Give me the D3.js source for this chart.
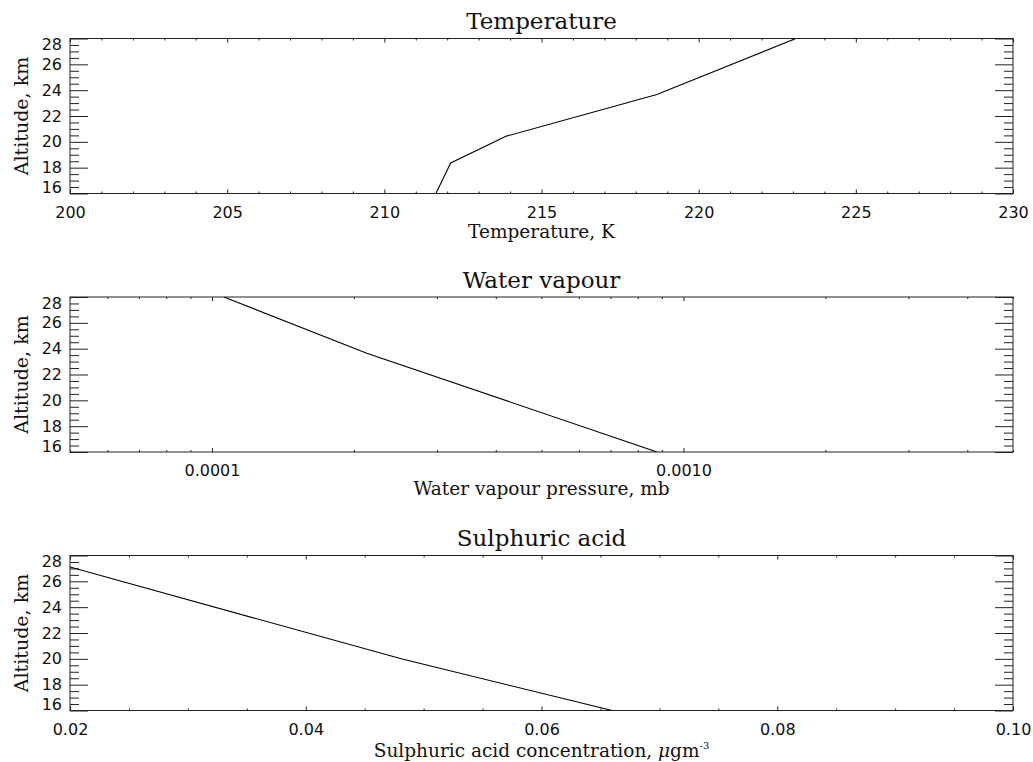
<!DOCTYPE html>
<html>
<head>
<meta charset="utf-8">
<script src="https://cdn.jsdelivr.net/npm/d3@7"></script>
<style>
  html, body { margin: 0; padding: 0; background: #fff; }
  svg { display: block; }
  .ttl { font-family: "DejaVu Serif", serif; fill: #111; }
</style>
</head>
<body>
<svg id="chart" width="1033" height="762"></svg>
<script>
// Altitude profiles
const tempAltitude   = [16, 18.36, 20.43, 23.66, 28];
const temperatureK   = [211.64, 212.11, 213.87, 218.67, 223.09];

const vapourAltitude = [16, 23.65, 28];
const vapourPressure = [0.000879, 0.000213, 0.000106];

const acidAltitude   = [16, 20, 27.11];
const acidConc       = [0.0660, 0.0481, 0.0200];

// Axis ticks and labels
const altitudeMajor  = [16, 18, 20, 22, 24, 26, 28];
const altitudeLabels = ["16", "18", "20", "22", "24", "26", "28"];
const tempMajor      = [200, 205, 210, 215, 220, 225, 230];
const tempLabels     = ["200", "205", "210", "215", "220", "225", "230"];
const vapourMajor    = [0.0001, 0.001];
const vapourLabels   = ["0.0001", "0.0010"];
const acidMajor      = [0.02, 0.04, 0.06, 0.08, 0.10];
const acidLabels     = ["0.02", "0.04", "0.06", "0.08", "0.10"];

const svg = d3.select("#chart");
const left = 70, right = 1013, plotH = 155;

const altMinor = d3.range(16, 28.001, 0.5).filter(v => Math.abs(v % 2) > 1e-6);

function styleAxis(sel) {
  sel.select(".domain").remove();
  sel.selectAll("line").attr("stroke", "#222");
  sel.selectAll("text")
    .attr("font-family", "DejaVu Sans, sans-serif")
    .attr("font-size", 16)
    .attr("fill", "#111");
}

function panel(cfg) {
  const top = cfg.top, bottom = top + plotH;
  const g = svg.append("g");
  const x = cfg.scale.range([left, right]);
  const y = d3.scaleLinear().domain([16, 28]).range([bottom, top]);

  const clipId = "clip" + cfg.id;
  svg.append("clipPath").attr("id", clipId)
    .append("rect").attr("x", left).attr("y", top).attr("width", right - left).attr("height", plotH);

  // frame
  g.append("rect").attr("x", left).attr("y", top).attr("width", right - left).attr("height", plotH)
    .attr("fill", "none").attr("stroke", "#222").attr("stroke-width", 1);

  // bottom x axis with labels
  const fmt = d => cfg.labels[cfg.major.indexOf(d)];
  g.append("g").attr("transform", `translate(0,${bottom})`)
    .call(d3.axisBottom(x).tickValues(cfg.major).tickFormat(fmt).tickSizeInner(-4).tickSizeOuter(0).tickPadding(13))
    .call(styleAxis);
  g.append("g").attr("transform", `translate(0,${bottom})`)
    .call(d3.axisBottom(x).tickValues(cfg.minor).tickFormat("").tickSizeInner(-2).tickSizeOuter(0))
    .call(styleAxis);
  // top x axis
  g.append("g").attr("transform", `translate(0,${top})`)
    .call(d3.axisTop(x).tickValues(cfg.major).tickFormat("").tickSizeInner(-4).tickSizeOuter(0))
    .call(styleAxis);
  g.append("g").attr("transform", `translate(0,${top})`)
    .call(d3.axisTop(x).tickValues(cfg.minor).tickFormat("").tickSizeInner(-2).tickSizeOuter(0))
    .call(styleAxis);

  // left y axis with labels, end labels kept inside the frame
  const yl = g.append("g").attr("transform", `translate(${left},0)`)
    .call(d3.axisLeft(y).tickValues(altitudeMajor)
      .tickFormat(d => altitudeLabels[altitudeMajor.indexOf(d)])
      .tickSizeInner(-18).tickSizeOuter(0).tickPadding(8))
    .call(styleAxis);
  yl.selectAll(".tick text").attr("y", d => {
    const c = Math.min(Math.max(y(d), top + 6.2), bottom - 6);
    return c - y(d);
  });
  g.append("g").attr("transform", `translate(${left},0)`)
    .call(d3.axisLeft(y).tickValues(altMinor).tickFormat("").tickSizeInner(-9).tickSizeOuter(0))
    .call(styleAxis);
  // right y axis
  g.append("g").attr("transform", `translate(${right},0)`)
    .call(d3.axisRight(y).tickValues(altitudeMajor).tickFormat("").tickSizeInner(-18).tickSizeOuter(0))
    .call(styleAxis);
  g.append("g").attr("transform", `translate(${right},0)`)
    .call(d3.axisRight(y).tickValues(altMinor).tickFormat("").tickSizeInner(-9).tickSizeOuter(0))
    .call(styleAxis);

  // profile line
  const pts = cfg.values.map((v, i) => [v, cfg.alt[i]]);
  g.append("path").datum(pts)
    .attr("clip-path", `url(#${clipId})`)
    .attr("fill", "none").attr("stroke", "#000").attr("stroke-width", 1.1)
    .attr("d", d3.line().x(d => x(d[0])).y(d => y(d[1])));

  // titles
  const cx = (left + right) / 2;
  g.append("text").attr("class", "ttl").attr("x", cx).attr("y", top - 9.5)
    .attr("text-anchor", "middle").attr("font-size", 23).text(cfg.title);
  const xt = g.append("text").attr("class", "ttl").attr("x", cx).attr("y", bottom + cfg.xTitleGap)
    .attr("text-anchor", "middle").attr("font-size", 18.5);
  cfg.xTitle(xt);
  g.append("text").attr("class", "ttl")
    .attr("transform", `translate(28,${(top + bottom) / 2}) rotate(-90)`)
    .attr("text-anchor", "middle").attr("font-size", 19).text("Altitude, km");
}

panel({
  id: 1, top: 38.5, title: "Temperature",
  scale: d3.scaleLinear().domain([200, 230]),
  major: tempMajor, labels: tempLabels,
  minor: d3.range(200, 230.001, 1).filter(v => v % 5 !== 0),
  alt: tempAltitude, values: temperatureK, xTitleGap: 44,
  xTitle: t => t.text("Temperature, K")
});

const vapourMinor = [];
[0.00001, 0.0001, 0.001].forEach(dec => d3.range(2, 10).forEach(m => {
  const v = m * dec; if (v > 0.00005 * 0.999 && v < 0.005 * 1.001) vapourMinor.push(v);
}));
panel({
  id: 2, top: 297, title: "Water vapour",
  scale: d3.scaleLog().domain([0.00005, 0.005]),
  major: vapourMajor, labels: vapourLabels,
  minor: vapourMinor,
  alt: vapourAltitude, values: vapourPressure, xTitleGap: 42.5,
  xTitle: t => t.text("Water vapour pressure, mb")
});

panel({
  id: 3, top: 555.5, title: "Sulphuric acid",
  scale: d3.scaleLinear().domain([0.02, 0.10]),
  major: acidMajor, labels: acidLabels,
  minor: d3.range(0.025, 0.1, 0.005).filter(v => Math.abs((v / 0.02) - Math.round(v / 0.02)) > 1e-6),
  alt: acidAltitude, values: acidConc, xTitleGap: 46,
  xTitle: t => {
    t.append("tspan").text("Sulphuric acid concentration, ");
    t.append("tspan").attr("font-style", "italic").text("μ");
    t.append("tspan").text("gm");
    t.append("tspan").attr("font-size", 10).attr("dy", -8).text("-3");
  }
});
</script>
</body>
</html>
